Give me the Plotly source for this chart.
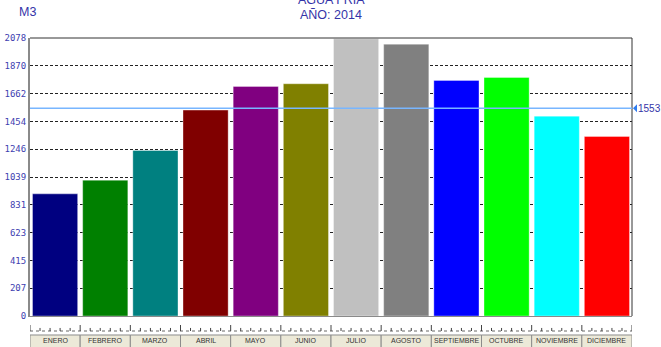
import plotly.graph_objects as go

# Consumo mensual de agua fría (m3), año 2014
MESES = ["ENERO", "FEBRERO", "MARZO", "ABRIL", "MAYO", "JUNIO", "JULIO",
         "AGOSTO", "SEPTIEMBRE", "OCTUBRE", "NOVIEMBRE", "DICIEMBRE"]
CONSUMO_M3 = [913, 1015, 1237, 1539, 1716, 1736, 2072, 2032, 1761, 1783, 1494, 1342]
COLORES = ["#000080", "#008000", "#008080", "#800000", "#800080", "#808000",
           "#C0C0C0", "#808080", "#0000FF", "#00FF00", "#00FFFF", "#FF0000"]

EJE_MAX = 2078
Y_TICKS = [0, 207.8, 415.6, 623.4, 831.2, 1039, 1246.8, 1454.6, 1662.4, 1870.2, 2078]
Y_TICK_TEXT = ["0", "207", "415", "623", "831", "1039", "1246", "1454", "1662", "1870", "2078"]
MEDIA = 1553

TITULO = "AGUA FRIA"
SUBTITULO = "AÑO: 2014"
UNIDAD = "M3"

AZUL_TEXTO = "#3434a8"

fig = go.Figure()
fig.add_trace(go.Bar(
    x=MESES, y=CONSUMO_M3,
    marker=dict(color=COLORES, line=dict(color="rgba(255,255,255,0.35)", width=1)),
    hoverinfo="x+y",
))

shapes = []
# borde superior y derecho del área de trazado
shapes.append(dict(type="line", xref="paper", yref="paper", x0=0, x1=1, y0=1, y1=1,
                   line=dict(color="#333333", width=1)))
shapes.append(dict(type="line", xref="paper", yref="paper", x0=1, x1=1, y0=0, y1=1,
                   line=dict(color="#333333", width=1)))
# línea de la media
shapes.append(dict(type="line", xref="paper", yref="y", x0=0, x1=1, y0=MEDIA, y1=MEDIA,
                   line=dict(color="#78b6ff", width=1.5), layer="above"))
# marcador triangular de la media
shapes.append(dict(type="path", xref="paper", yref="y", xsizemode="pixel", ysizemode="pixel",
                   xanchor=1, yanchor=MEDIA, path="M 1,0 L 5,4 L 5,-4 Z",
                   fillcolor="#2f7cf0", line=dict(width=0)))

# regla de marcas bajo el eje de categorías
Y_BASE = -0.054
shapes.append(dict(type="line", xref="x", yref="paper", x0=-0.5, x1=len(MESES) - 0.5,
                   y0=Y_BASE, y1=Y_BASE, line=dict(color="#666666", width=1, dash="dot")))
for i in range(len(MESES) + 1):
    shapes.append(dict(type="line", xref="x", yref="paper", x0=i - 0.5, x1=i - 0.5,
                       y0=-0.0324, y1=Y_BASE, line=dict(color="#444444", width=1)))
for i in range(len(MESES)):
    for k in range(1, 5):
        xm = i - 0.5 + k / 5
        shapes.append(dict(type="line", xref="x", yref="paper", x0=xm, x1=xm,
                           y0=-0.043, y1=Y_BASE, line=dict(color="#444444", width=1)))
# casillas de los nombres de los meses
for i in range(len(MESES)):
    shapes.append(dict(type="rect", xref="x", yref="paper", x0=i - 0.5, x1=i + 0.5,
                       y0=-0.0683, y1=-0.13, fillcolor="#ECE9D8",
                       line=dict(color="#8c8c8c", width=1)))

annotations = [
    dict(text=TITULO, xref="paper", yref="paper", x=0.5, y=1.138, showarrow=False,
         xanchor="center", yanchor="middle",
         font=dict(family="Liberation Sans", size=12.5, color=AZUL_TEXTO)),
    dict(text=SUBTITULO, xref="paper", yref="paper", x=0.5, y=1.082, showarrow=False,
         xanchor="center", yanchor="middle",
         font=dict(family="Liberation Sans", size=12.5, color=AZUL_TEXTO)),
    dict(text=UNIDAD, xref="paper", yref="paper", x=-0.004, y=1.092, showarrow=False,
         xanchor="center", yanchor="middle",
         font=dict(family="Liberation Sans", size=12.5, color=AZUL_TEXTO)),
    dict(text=str(MEDIA), xref="paper", yref="y", x=1.0066, y=MEDIA, showarrow=False,
         xanchor="left", yanchor="middle",
         font=dict(family="Liberation Sans", size=10, color=AZUL_TEXTO)),
]
for mes in MESES:
    annotations.append(dict(text=mes, xref="x", yref="paper", x=mes, y=-0.0899,
                            showarrow=False, xanchor="center", yanchor="middle",
                            font=dict(family="Liberation Sans", size=7, color="#333333")))

fig.update_layout(
    width=661, height=347,
    margin=dict(l=30, r=29, t=38, b=31, pad=0),
    paper_bgcolor="white", plot_bgcolor="white",
    bargap=0.1, showlegend=False,
    shapes=shapes, annotations=annotations,
    xaxis=dict(type="category", range=[-0.5, len(MESES) - 0.5], showticklabels=False,
               showgrid=False, zeroline=False, ticks="", automargin=False,
               showline=True, linecolor="#8a8a8a", linewidth=1),
    yaxis=dict(range=[0, EJE_MAX], tickvals=Y_TICKS, ticktext=Y_TICK_TEXT, ticks="",
               automargin=False,
               tickfont=dict(family="DejaVu Sans Mono", size=9, color="#4040b0"),
               showgrid=True, gridcolor="#222222", gridwidth=1, griddash="3px,2px",
               zeroline=False, showline=True, linecolor="#8a8a8a", linewidth=2),
)

fig.write_html("out.html")
